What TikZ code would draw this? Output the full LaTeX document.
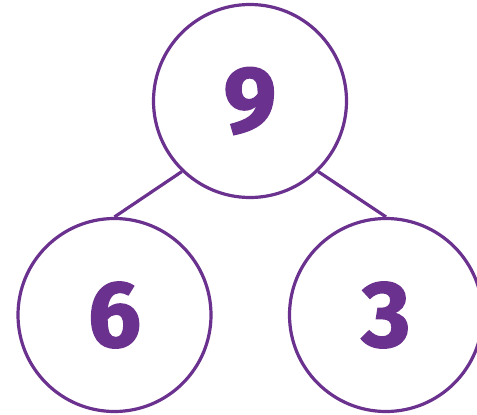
\documentclass[tikz,border=0pt]{standalone}
\usepackage{fontspec}
\setmainfont[BoldFeatures={FakeBold=1.5}]{Fira Sans}
\usepackage{xcolor}
\usepackage{tikz}
\usetikzlibrary{positioning}
\definecolor{tim}{RGB}{106,50,142}

\begin{document}
\begin{tikzpicture}[x=1pt, y=-1pt]
    \useasboundingbox (0,0) rectangle (477,415);

    % 1. Ba vòng tròn
    \tikzset{vong/.style={circle, draw=tim, line width=3.2pt, minimum size=193pt, inner sep=0pt,
        text=tim, font=\fontsize{94}{94}\selectfont\bfseries}}
    \node[vong] (tren) at (250,101) {\raisebox{-3pt}{9}};
    \node[vong] (trai) at (114.5,315) {\raisebox{-3pt}{6}};
    \node[vong] (phai) at (386,315) {\raisebox{-3pt}{3}};

    % 2. Đoạn nối
    \draw[tim, line width=3.2pt] (tren.226) -- (trai.north);
    \draw[tim, line width=3.2pt] (tren.-46) -- (phai.north);
\end{tikzpicture}
\end{document}
